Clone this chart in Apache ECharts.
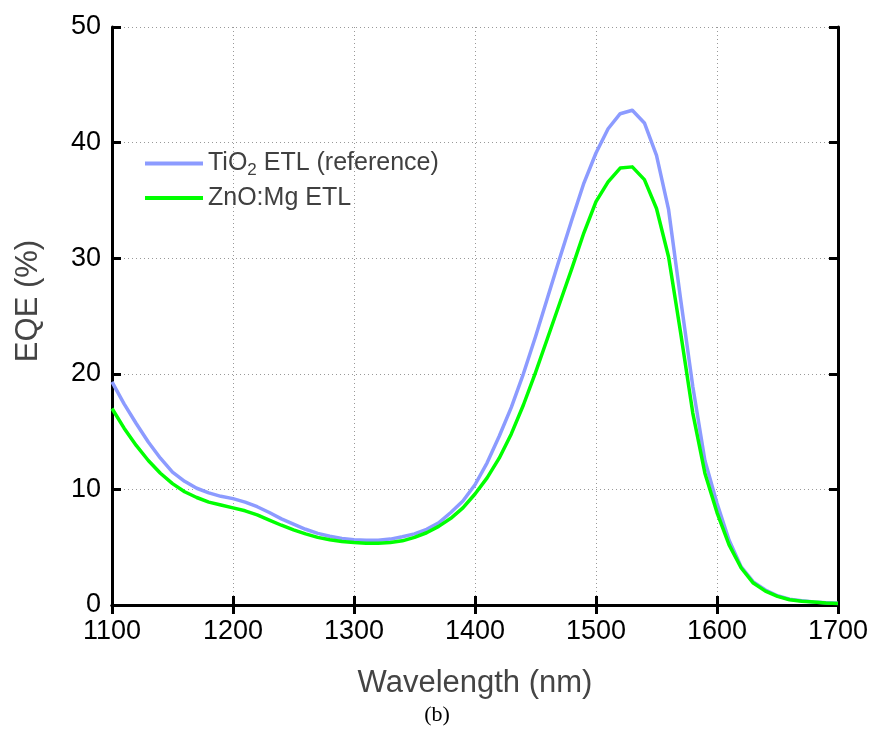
<!DOCTYPE html>
<html><head><meta charset="utf-8">
<script src="https://cdn.jsdelivr.net/npm/echarts@6/dist/echarts.min.js"></script>
<style>html,body{margin:0;padding:0;background:#fff}#c{width:874px;height:755px}</style>
</head><body><div id="c"></div>
<script>
const wavelengths = [1100,1110,1120,1130,1140,1150,1160,1170,1180,1190,1200,1210,1220,1230,1240,1250,1260,1270,1280,1290,1300,1310,1320,1330,1340,1350,1360,1370,1380,1390,1400,1410,1420,1430,1440,1450,1460,1470,1480,1490,1500,1510,1520,1530,1540,1550,1560,1570,1580,1590,1600,1610,1620,1630,1640,1650,1660,1670,1680,1690,1700];
const tio2 = [19.3,17.4,15.7,14.1,12.7,11.5,10.7,10.1,9.7,9.4,9.2,8.9,8.5,8.0,7.45,7.0,6.55,6.2,5.95,5.75,5.65,5.6,5.6,5.7,5.9,6.15,6.55,7.1,8.0,9.0,10.4,12.3,14.6,17.1,20.0,23.2,26.6,30.0,33.3,36.5,39.1,41.2,42.5,42.8,41.7,38.9,34.2,26.4,18.9,12.5,8.8,5.6,3.3,2.0,1.3,0.8,0.5,0.37,0.26,0.2,0.15];
const znomg = [17.0,15.3,13.8,12.5,11.4,10.5,9.8,9.3,8.9,8.65,8.4,8.15,7.8,7.35,6.9,6.5,6.15,5.85,5.65,5.5,5.4,5.35,5.35,5.4,5.55,5.85,6.25,6.8,7.5,8.4,9.6,11.0,12.7,14.8,17.3,20.1,23.1,26.1,29.1,32.2,34.9,36.6,37.8,37.9,36.8,34.3,30.1,23.5,16.6,11.4,8.0,5.2,3.2,1.9,1.2,0.75,0.45,0.33,0.25,0.18,0.14];
const seriesNames = ['TiO2 ETL (reference)','ZnO:Mg ETL'];
const xTicks = [1100,1700,100];
const yTicks = [0,50,10];

const chart = echarts.init(document.getElementById('c'));
const font = 'Liberation Sans, Arial, sans-serif';
const pair = (xs, ys) => xs.map((x,i)=>[x, ys[i]]);
chart.setOption({
  backgroundColor:'#fff',
  animation:false,
  grid:{left:112,right:36,top:27,bottom:150},
  legend:{
    left:140, top:146, orient:'vertical', itemGap:7,
    itemWidth:58, itemHeight:4,
    icon:'rect',
    textStyle:{fontFamily:font,fontSize:25,color:'#404040',
      rich:{n:{fontFamily:font,fontSize:25,lineHeight:30,color:'#404040'},
            s:{fontFamily:font,fontSize:17,lineHeight:16,color:'#404040',verticalAlign:'bottom'}}},
    formatter:function(n){ if(n===seriesNames[0]) return '{n|TiO}{s|2}{n| ETL (reference)}'; return '{n|'+n+'}'; },
    data:seriesNames
  },
  xAxis:[{
    type:'value', min:xTicks[0], max:xTicks[1], interval:xTicks[2],
    name:'Wavelength (nm)', nameLocation:'middle', nameGap:63,
    nameTextStyle:{fontFamily:font,fontSize:31,color:'#444'},
    axisLine:{lineStyle:{color:'#000',width:3}},
    axisTick:{inside:true,length:9,lineStyle:{color:'#000',width:3}},
    axisLabel:{fontFamily:font,fontSize:27,color:'#000',margin:13,formatter:v=>String(v)},
    splitLine:{show:true,lineStyle:{color:'#999',type:[1,3],width:1}}
  },{
    type:'value', position:'top', min:xTicks[0], max:xTicks[1], interval:xTicks[2],
    axisLine:{show:true,lineStyle:{color:'#000',width:3}},
    axisTick:{inside:true,length:9,lineStyle:{color:'#000',width:3}},
    axisLabel:{show:false}, splitLine:{show:false}
  }],
  yAxis:[{
    type:'value', min:yTicks[0], max:yTicks[1], interval:yTicks[2],
    name:'EQE (%)', nameLocation:'middle', nameGap:68,
    nameTextStyle:{fontFamily:font,fontSize:31,color:'#444',padding:[0,0,0,30]},
    axisLine:{show:true,lineStyle:{color:'#000',width:3}},
    axisTick:{show:true,inside:true,length:9,lineStyle:{color:'#000',width:3}},
    axisLabel:{fontFamily:font,fontSize:27,color:'#000',margin:11},
    splitLine:{show:true,lineStyle:{color:'#999',type:[1,3],width:1}}
  },{
    type:'value', position:'right', min:yTicks[0], max:yTicks[1], interval:yTicks[2],
    axisLine:{show:true,lineStyle:{color:'#000',width:3}},
    axisTick:{show:true,inside:true,length:9,lineStyle:{color:'#000',width:3}},
    axisLabel:{show:false}, splitLine:{show:false}
  }],
  series:[
    {name:seriesNames[0],type:'line',data:pair(wavelengths,tio2),showSymbol:false,smooth:false,
     lineStyle:{color:'#8c9bff',width:3.5,join:'round'},itemStyle:{color:'#8c9bff'},z:3},
    {name:seriesNames[1],type:'line',data:pair(wavelengths,znomg),showSymbol:false,smooth:false,
     lineStyle:{color:'#00ff00',width:3.5,join:'round'},itemStyle:{color:'#00ff00'},z:4}
  ],
  graphic:[{type:'text',left:'center',top:704,
    style:{text:'(b)',font:'22px "Liberation Serif", "Times New Roman", serif',fill:'#000'}}]
});
</script></body></html>
